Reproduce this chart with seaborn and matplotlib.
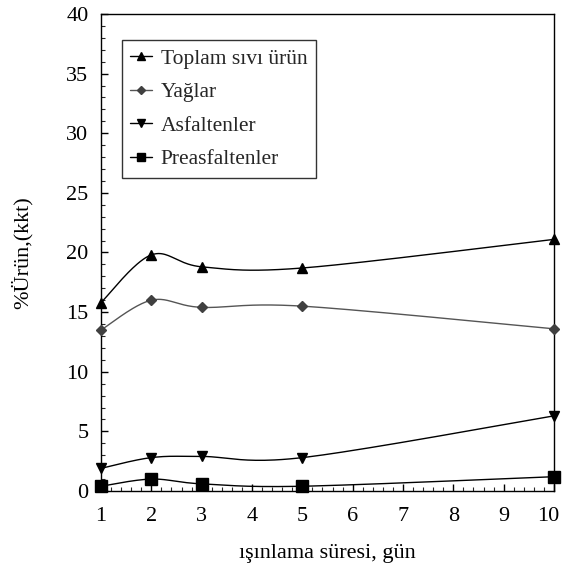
import numpy as np
import pandas as pd
import matplotlib
matplotlib.use("Agg")
import matplotlib.pyplot as plt
import matplotlib.transforms as mtransforms
from matplotlib.lines import Line2D
from matplotlib.ticker import MultipleLocator
import seaborn as sns

days = [1, 2, 3, 5, 10]
toplam = [15.8, 19.8, 18.8, 18.7, 21.1]
yaglar = [13.5, 16.0, 15.4, 15.5, 13.6]
asfaltenler = [1.9, 2.8, 2.9, 2.8, 6.3]
preasfaltenler = [0.4, 1.0, 0.6, 0.4, 1.2]
series_names = ["Toplam sıvı ürün", "Yağlar", "Asfaltenler", "Preasfaltenler"]
x_ticks = list(range(1, 11))

sns.set_theme(style="white")
plt.rcParams['font.family'] = ['Liberation Serif', 'DejaVu Serif']


def smooth(xs, ys, n=40):
    # Excel-like smoothed line (Catmull-Rom through the points)
    p = np.column_stack([xs, ys]).astype(float)
    p = np.vstack([p[0], p, p[-1]])
    out = []
    t = np.linspace(0, 1, n)
    for i in range(1, len(p) - 2):
        p0, p1, p2, p3 = p[i - 1], p[i], p[i + 1], p[i + 2]
        c1 = p1 + (p2 - p0) / 6
        c2 = p2 - (p3 - p1) / 6
        seg = ((1 - t) ** 3)[:, None] * p1 + (3 * (1 - t) ** 2 * t)[:, None] * c1 \
            + (3 * (1 - t) * t ** 2)[:, None] * c2 + (t ** 3)[:, None] * p2
        out.append(seg if i == 1 else seg[1:])
    s = np.vstack(out)
    return s[:, 0], s[:, 1]


fig = plt.figure(figsize=(5.63, 5.66), dpi=100)
ax = fig.add_axes([0.1794, 0.1325, 0.8046, 0.8428])

styles = [
    dict(marker="^", ms=7.5, mc="black", lc="black"),
    dict(marker="D", ms=5.5, mc="#404040", lc="#555555"),
    dict(marker="v", ms=7.5, mc="black", lc="black"),
    dict(marker="s", ms=8, mc="black", lc="black"),
]
data = [toplam, yaglar, asfaltenler, preasfaltenler]
handles = []
for name, vals, st in zip(series_names, data, styles):
    sx, sy = smooth(days, vals)
    df = pd.DataFrame({"x": sx, "y": sy})
    sns.lineplot(data=df, x="x", y="y", ax=ax, color=st["lc"], lw=1.0,
                 sort=False, estimator=None)
    ax.plot(days, vals, linestyle="none", marker=st["marker"], ms=st["ms"],
            color=st["mc"], clip_on=False, zorder=5)
    handles.append(Line2D([0], [0], color=st["lc"], lw=1.0, marker=st["marker"],
                          ms=st["ms"] * 0.8, mfc=st["mc"], mec=st["mc"]))

ax.set_xlim(1, 10)
ax.set_ylim(0, 40)
ax.set_xticks(x_ticks, [str(v) for v in x_ticks])
ax.xaxis.set_minor_locator(MultipleLocator(0.2))
ax.yaxis.set_major_locator(MultipleLocator(5))
ax.yaxis.set_minor_locator(MultipleLocator(1))
ax.tick_params(axis="both", which="major", direction="in", length=5, width=1,
               labelsize=16, colors="black", top=False, right=False, bottom=True, left=True)
ax.tick_params(axis="x", which="major", pad=11.5)
ax.tick_params(axis="y", which="major", pad=9)
ax.tick_params(axis="both", which="minor", direction="in", length=3, width=0.8,
               top=False, right=False, bottom=True, left=True)
for sp in ax.spines.values():
    sp.set_color("black")
    sp.set_linewidth(1.0)

ax.set_xlabel("ışınlama süresi, gün", fontsize=16, color="black", labelpad=13)
ax.set_ylabel("%Ürün,(kkt)", fontsize=16, color="black", labelpad=24)

for lab in ax.get_xticklabels():
    if lab.get_text() == "10":
        lab.set_transform(lab.get_transform() +
                          mtransforms.ScaledTranslation(-6 / 100, 0, fig.dpi_scale_trans))

leg = ax.legend(handles, series_names, loc="upper left", bbox_to_anchor=(0.046, 0.945),
                fontsize=15.5, frameon=True, fancybox=False, edgecolor="black",
                handlelength=1.0, handletextpad=0.4, labelspacing=0.62, borderpad=0.4,
                borderaxespad=0)
leg.get_frame().set_linewidth(1.0)

fig.savefig("out.png", dpi=100)
